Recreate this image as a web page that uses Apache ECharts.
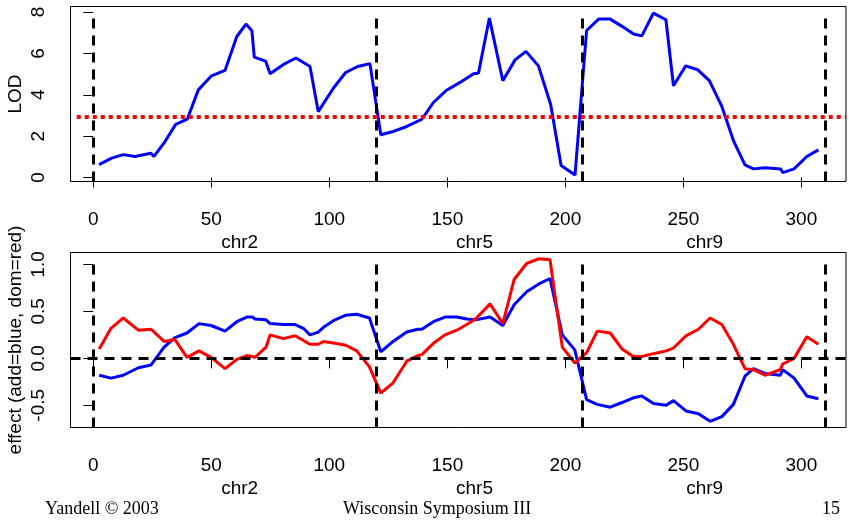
<!DOCTYPE html>
<html>
<head>
<meta charset="utf-8">
<title>LOD and effects</title>
<script src="https://cdn.jsdelivr.net/npm/echarts@6.0.0/dist/echarts.min.js"></script>
<style>
  html, body { margin: 0; padding: 0; background: #fff; }
  #chart { width: 849px; height: 520px; }
</style>
</head>
<body>
<div id="chart"></div>
<script>
// map positions (cM) and LOD profile
const lodPos = [2.4, 7.8, 12.7, 17.7, 24.3, 25.7, 30.4, 34.9, 39.8, 44.5, 50.1, 55.8, 60.8, 64.7, 67.2, 68.2,
  73.0, 74.9, 80.6, 85.9, 91.8, 95.3, 101.7, 106.9, 112.0, 117.2, 121.8, 127.1, 132.8, 139.2, 144.1, 149.5,
  155.4, 161.1, 163.2, 167.8, 173.5, 178.7, 183.3, 188.6, 193.8, 198.2, 204.1, 209.0, 214.1, 219.0, 224.0,
  228.9, 232.4, 237.3, 242.6, 245.8, 251.0, 256.1, 261.0, 266.3, 271.2, 276.1, 279.7, 284.6, 291.2, 292.1,
  296.9, 302.3, 307.2];
const lodVal = [0.63, 0.94, 1.11, 1.02, 1.18, 1.02, 1.74, 2.57, 2.82, 4.24, 4.92, 5.18, 6.82, 7.42, 7.10, 5.82,
  5.63, 5.02, 5.47, 5.78, 5.37, 3.19, 4.32, 5.08, 5.37, 5.51, 2.07, 2.23, 2.47, 2.82, 3.63, 4.21,
  4.60, 5.02, 5.05, 7.71, 4.68, 5.69, 6.10, 5.40, 3.52, 0.58, 0.12, 7.11, 7.66, 7.66, 7.31,
  6.94, 6.85, 7.95, 7.63, 4.44, 5.40, 5.21, 4.69, 3.44, 1.79, 0.61, 0.42, 0.48, 0.42, 0.24,
  0.42, 1.02, 1.34];
const lodThreshold = 2.96;

// additive (blue) and dominance (red) effects
const effPos = [2.5, 7.5, 12.7, 19.1, 24.5, 30.0, 34.6, 39.7, 44.8, 49.9, 55.8, 60.8, 65.0, 67.4, 68.5, 73.2,
  74.9, 80.5, 85.5, 89.0, 91.8, 95.3, 97.5, 102.4, 107.0, 111.6, 117.0, 121.8, 127.0, 132.8, 137.5, 139.2,
  144.1, 149.0, 154.0, 158.2, 162.0, 168.1, 173.5, 178.3, 183.6, 188.6, 193.5, 198.7, 204.0, 209.0, 213.5,
  219.0, 224.0, 228.8, 232.4, 237.3, 242.7, 245.8, 251.1, 256.4, 261.3, 266.3, 271.2, 276.1, 279.7, 284.6,
  291.0, 292.1, 296.9, 302.3, 307.2];
const addVal = [-0.18, -0.21, -0.18, -0.10, -0.07, 0.12, 0.22, 0.27, 0.37, 0.35, 0.29, 0.39, 0.44, 0.44, 0.42, 0.41,
  0.37, 0.36, 0.36, 0.32, 0.25, 0.28, 0.33, 0.41, 0.46, 0.47, 0.43, 0.07, 0.18, 0.28, 0.31, 0.31,
  0.39, 0.44, 0.44, 0.42, 0.41, 0.44, 0.35, 0.57, 0.71, 0.79, 0.85, 0.25, 0.09, -0.44, -0.49,
  -0.52, -0.47, -0.42, -0.40, -0.48, -0.50, -0.45, -0.56, -0.59, -0.67, -0.62, -0.49, -0.19, -0.11, -0.16,
  -0.18, -0.12, -0.21, -0.40, -0.43];
const domVal = [0.10, 0.32, 0.43, 0.30, 0.31, 0.18, 0.20, 0.01, 0.08, 0.01, -0.11, -0.01, 0.03, 0.02, 0.01, 0.12,
  0.25, 0.21, 0.24, 0.19, 0.15, 0.15, 0.18, 0.16, 0.14, 0.08, -0.09, -0.37, -0.26, -0.03, 0.03, 0.04,
  0.16, 0.25, 0.30, 0.36, 0.42, 0.58, 0.37, 0.84, 1.01, 1.06, 1.05, 0.12, -0.05, 0.06, 0.29,
  0.27, 0.10, 0.02, 0.02, 0.05, 0.08, 0.11, 0.24, 0.31, 0.43, 0.36, 0.15, -0.11, -0.12, -0.18,
  -0.12, -0.06, 0.00, 0.23, 0.15];

// chromosome boundaries and labels
const chrBounds = [0, 120, 207, 310];
const chrNames = ['chr2', 'chr5', 'chr9'];
const chrMid = [62, 161.5, 259];

const xTicks = [0, 50, 100, 150, 200, 250, 300];
const lodTicks = [0, 2, 4, 6, 8];
const effTicks = [-0.5, 0, 0.5, 1.0];

const X_MIN = -9.66, X_MAX = 318.9;
const FONT = 'Liberation Sans, Arial, sans-serif';

const pairs = (xs, ys) => xs.map((x, i) => [x, ys[i]]);

function posAxis(grid) {
  return {
    type: 'value', gridIndex: grid, min: X_MIN, max: X_MAX,
    axisLine: { show: false },
    splitLine: { show: false },
    axisTick: { show: true, customValues: xTicks, length: 10, lineStyle: { color: '#000', width: 1 } },
    axisLabel: { customValues: xTicks, fontSize: 19, fontFamily: FONT, color: '#000', margin: 29 }
  };
}

function chrAxis(grid) {
  return {
    type: 'value', gridIndex: grid, min: X_MIN, max: X_MAX, position: 'bottom',
    axisLine: { show: false }, axisTick: { show: false }, splitLine: { show: false },
    axisLabel: {
      customValues: chrMid, fontSize: 19, fontFamily: FONT, color: '#000', margin: 52,
      formatter: (v) => chrNames[chrMid.indexOf(v)]
    }
  };
}

function boundLines(yLo, yHi) {
  return chrBounds.map((b) => [{ coord: [b, yLo], lineStyle: dashBlack }, { coord: [b, yHi] }]);
}

const dashBlack = { color: '#000', width: 3, type: [10, 7] };

const chart = echarts.init(document.getElementById('chart'), null, { renderer: 'canvas' });

const gridBase = {
  left: 70.5, right: 3, height: 175, show: true, borderColor: '#000', borderWidth: 1,
  containLabel: false, outerBoundsMode: 'none'
};

chart.setOption({
  animation: false,
  backgroundColor: '#fff',
  grid: [
    Object.assign({ top: 6.5 }, gridBase),
    Object.assign({ top: 252.5 }, gridBase)
  ],
  xAxis: [posAxis(0), chrAxis(0), posAxis(1), chrAxis(1)],
  yAxis: [
    {
      type: 'value', gridIndex: 0, min: -0.19, max: 8.27,
      name: 'LOD', nameLocation: 'middle', nameGap: 45, nameMoveOverlap: false,
      nameTextStyle: { fontSize: 19, fontFamily: FONT, color: '#000' },
      axisLine: { show: false }, splitLine: { show: false },
      axisTick: { show: true, customValues: lodTicks, length: 10, lineStyle: { color: '#000' } },
      axisLabel: { customValues: lodTicks, rotate: 90, fontSize: 19, fontFamily: FONT, color: '#000', margin: 22 }
    },
    {
      type: 'value', gridIndex: 1, min: -0.736, max: 1.127,
      name: 'effect (add=blue, dom=red)', nameLocation: 'middle', nameGap: 45, nameMoveOverlap: false,
      nameTextStyle: { fontSize: 19, fontFamily: FONT, color: '#000' },
      axisLine: { show: false }, splitLine: { show: false },
      axisTick: { show: true, customValues: effTicks, length: 10, lineStyle: { color: '#000' } },
      axisLabel: {
        customValues: effTicks, rotate: 90, fontSize: 19, fontFamily: FONT, color: '#000', margin: 22,
        formatter: (v) => v.toFixed(1)
      }
    }
  ],
  series: [
    {
      name: 'LOD', type: 'line', xAxisIndex: 0, yAxisIndex: 0,
      data: pairs(lodPos, lodVal), showSymbol: false, symbol: 'none',
      lineStyle: { color: '#0000ff', width: 3 }, z: 3,
      markLine: {
        silent: true, symbol: 'none', label: { show: false },
        data: [
          [
            { coord: [-7, lodThreshold], lineStyle: { color: '#ff0000', width: 4, type: [4, 4] } },
            { coord: [X_MAX, lodThreshold] }
          ],
          ...boundLines(-0.19, 7.95)
        ]
      }
    },
    {
      name: 'add', type: 'line', xAxisIndex: 2, yAxisIndex: 1,
      data: pairs(effPos, addVal), showSymbol: false, symbol: 'none',
      lineStyle: { color: '#0000ff', width: 3 }, z: 3,
      markLine: {
        silent: true, symbol: 'none', label: { show: false },
        data: [
          { yAxis: 0, lineStyle: dashBlack },
          ...boundLines(-0.736, 1.056)
        ]
      }
    },
    {
      name: 'dom', type: 'line', xAxisIndex: 2, yAxisIndex: 1,
      data: pairs(effPos, domVal), showSymbol: false, symbol: 'none',
      lineStyle: { color: '#ff0000', width: 3 }, z: 4
    }
  ],
  graphic: [
    { type: 'text', left: 45, top: 500, style: { text: 'Yandell \u00a9 2003', font: '18px "Liberation Serif", serif', fill: '#000' } },
    { type: 'text', left: 343, top: 500, style: { text: 'Wisconsin Symposium III', font: '18px "Liberation Serif", serif', fill: '#000' } },
    { type: 'text', left: 822, top: 500, style: { text: '15', font: '18px "Liberation Serif", serif', fill: '#000' } }
  ]
});
</script>
</body>
</html>
